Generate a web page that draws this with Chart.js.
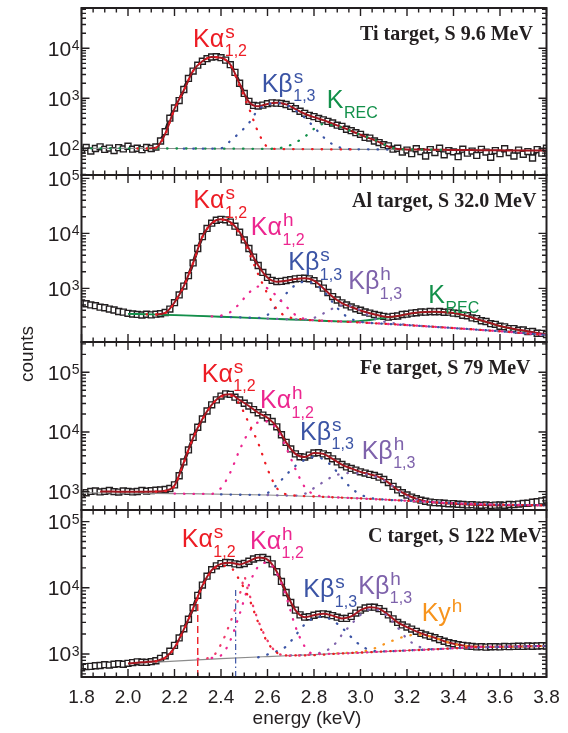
<!DOCTYPE html>
<html><head><meta charset="utf-8">
<script src="https://cdn.jsdelivr.net/npm/chart.js@4.4.1/dist/chart.umd.min.js"></script>
<style>
html,body{margin:0;padding:0;background:#fff;}
#wrap{position:relative;width:568px;height:733px;overflow:hidden;}
canvas{position:absolute;left:0;top:0;}
</style>
</head><body><div id="wrap">
<canvas id="c0" width="568" height="733"></canvas>
<canvas id="c1" width="568" height="733"></canvas>
<canvas id="c2" width="568" height="733"></canvas>
<canvas id="c3" width="568" height="733"></canvas>
</div>
<script>
// ---------------- DATA ----------------
const energy = [1.80,1.82,1.84,1.86,1.88,1.90,1.92,1.94,1.96,1.98,2.00,2.02,2.04,2.06,2.08,2.10,2.12,2.14,2.16,2.18,2.20,2.22,2.24,2.26,2.28,2.30,2.32,2.34,2.36,2.38,2.40,2.42,2.44,2.46,2.48,2.50,2.52,2.54,2.56,2.58,2.60,2.62,2.64,2.66,2.68,2.70,2.72,2.74,2.76,2.78,2.80,2.82,2.84,2.86,2.88,2.90,2.92,2.94,2.96,2.98,3.00,3.02,3.04,3.06,3.08,3.10,3.12,3.14,3.16,3.18,3.20,3.22,3.24,3.26,3.28,3.30,3.32,3.34,3.36,3.38,3.40,3.42,3.44,3.46,3.48,3.50,3.52,3.54,3.56,3.58,3.60,3.62,3.64,3.66,3.68,3.70,3.72,3.74,3.76,3.78,3.80];
const fitEnergy = [1.80,1.84,1.88,1.92,1.96,2.00,2.04,2.08,2.12,2.16,2.20,2.24,2.28,2.32,2.36,2.40,2.44,2.48,2.52,2.56,2.60,2.64,2.68,2.72,2.76,2.80,2.84,2.88,2.92,2.96,3.00,3.04,3.08,3.12,3.16,3.20,3.24,3.28,3.32,3.36,3.40,3.44,3.48,3.52,3.56,3.60,3.64,3.68,3.72,3.76,3.80];
const xTickValues = [1.8,2.0,2.2,2.4,2.6,2.8,3.0,3.2,3.4,3.6,3.8];
const xTickLabels = ['1.8','2.0','2.2','2.4','2.6','2.8','3.0','3.2','3.4','3.6','3.8'];

// Ti target, S 9.6 MeV
const tiCounts = [92,104,88,99,107,95,101,90,103,97,
 110,96,100,94,104,99,106,140,215,400,
 640,900,1500,2500,3500,4600,5500,6200,6700,6800,
 6500,5800,4700,3300,2000,1250,870,720,700,730,
 780,810,800,790,750,690,620,550,500,455,
 430,395,370,345,320,290,275,240,225,205,
 190,165,160,140,130,118,112,96,100,84,
 92,78,98,86,70,94,82,100,74,90,
 85,68,96,80,88,72,95,84,66,90,
 78,98,82,70,92,76,86,64,94,80,
 100];
const tiFit = [null,null,null,null,null,null,null,99,103,195,620,1450,3550,5500,6700,6500,4750,1950,850,690,770,815,755,610,490,420,365,310,265,222,186,158,133,108,97,95,94,94,93,93,92,92,92,91,91,91,90,90,90,90,90];
const tiBgE = [1.8,2.2,2.6,3.0,3.4,3.8];
const tiBgV = [100,99,97,95,92,90];
const tiKasE = [2.04,2.08,2.12,2.16,2.20,2.24,2.28,2.32,2.36,2.40,2.44,2.48,2.52,2.56,2.60,2.64,2.72,2.80,2.88,2.96];
const tiKasV = [99,99,102,190,600,1420,3500,5450,6650,6400,4650,1750,640,210,106,97,96,96,95,95];
const tiKbsE = [2.24,2.32,2.40,2.44,2.48,2.52,2.56,2.60,2.64,2.68,2.72,2.76,2.80,2.84,2.88,2.92,2.96,3.04,3.12];
const tiKbsV = [98,98,100,140,205,320,590,750,800,740,570,410,265,168,120,101,96,95,94];
const tiRecE = [1.80,1.90,2.00,2.10,2.20,2.30,2.40,2.50,2.60,2.64,2.68,2.72,2.76,2.80,2.84,2.88,2.92,2.96,3.00,3.04,3.08,3.12,3.16,3.20,3.28,3.36];
const tiRecV = [100,100,100,99,99,99,98,98,97,100,107,130,170,245,305,290,262,220,185,160,135,108,97,95,94,93];

// Al target, S 32.0 MeV
const alCounts = [545,525,500,485,455,445,420,405,380,370,
 352,342,336,328,338,330,340,346,365,420,
 550,760,1100,1700,2900,5300,8700,12300,15300,17300,
 18000,17600,16000,13500,10500,7600,5300,3700,2600,1950,
 1580,1400,1330,1340,1390,1440,1490,1520,1530,1490,
 1380,1200,1010,840,710,615,545,500,460,425,
 400,372,355,335,322,310,300,310,315,335,
 340,355,360,372,370,380,375,380,368,370,
 355,350,325,318,290,282,258,250,228,222,
 205,200,186,186,174,175,164,165,153,152,
 145];
const alFit = [null,null,null,null,null,null,null,null,336,358,555,1100,2900,8700,15300,18000,16000,10500,5300,2600,1570,1320,1380,1480,1520,1380,1005,705,540,458,397,352,320,302,314,340,360,372,376,370,357,330,295,261,232,207,190,177,166,155,145];
const alBgE = [2.0,2.2,2.4,2.6,2.8,3.0,3.2,3.4,3.6,3.8];
const alBgV = [345,327,305,283,262,240,215,190,166,142];
const alRecE = [2.00,2.10,2.20,2.30,2.40,2.50,2.60,2.70,2.80,2.90,2.96,3.00,3.04,3.08,3.12,3.16,3.20,3.24,3.28,3.32,3.36,3.40,3.44,3.48,3.52,3.56,3.60,3.64,3.68,3.72,3.76,3.80];
const alRecV = [345,336,327,316,305,294,283,272,262,252,250,256,266,282,296,312,338,358,371,375,369,356,329,294,260,231,205,188,175,164,153,143];
const alKasE = [2.08,2.12,2.16,2.20,2.24,2.28,2.32,2.36,2.40,2.44,2.48,2.52,2.56,2.60,2.64,2.68,2.72,2.80,2.90,3.00,3.20,3.40,3.60,3.80];
const alKasV = [338,335,355,550,1080,2850,8600,15100,17800,15500,9800,4500,1800,800,420,310,285,262,251,240,215,190,166,142];
const alKahE = [2.36,2.40,2.44,2.48,2.52,2.56,2.60,2.64,2.68,2.72,2.76,2.80,2.90,3.00,3.20,3.40,3.60,3.80];
const alKahV = [310,320,370,530,830,1080,1000,720,470,330,278,264,252,240,215,190,166,142];
const alKbsE = [2.40,2.50,2.56,2.60,2.64,2.68,2.72,2.76,2.80,2.84,2.88,2.92,2.96,3.00,3.10,3.20,3.40,3.60,3.80];
const alKbsV = [305,295,290,330,480,800,1150,1320,1220,900,560,360,278,248,228,215,190,166,142];
const alKbhE = [2.60,2.70,2.76,2.80,2.84,2.88,2.92,2.96,3.00,3.04,3.08,3.12,3.20,3.40,3.60,3.80];
const alKbhV = [283,273,272,290,350,430,490,480,400,310,262,240,218,190,166,142];

// Fe target, S 79 MeV
const feCounts = [900,960,1010,1030,990,1010,1045,1000,985,1030,
 1010,990,1005,1050,1020,1040,1060,1070,1090,1130,
 1300,1850,3150,5000,8100,12000,16500,22500,28500,34500,
 40000,43500,42800,38300,34300,30300,27300,23700,21000,19200,
 17300,15000,12200,9000,6700,5200,4300,3850,3800,4100,
 4450,4500,4300,4000,3550,3150,2850,2600,2450,2300,
 2150,2050,1950,1870,1750,1600,1420,1230,1070,960,
 880,810,760,720,690,670,655,650,640,625,
 630,615,610,600,605,595,590,600,585,595,
 600,590,610,605,620,635,640,665,680,700,
 725];
const feFit = [null,null,1010,1005,1000,998,996,996,1002,1040,1270,3100,8000,16500,28500,40000,42800,34300,27300,21000,17300,12200,6700,4300,3800,4450,4300,3550,2850,2450,2150,1950,1750,1420,1070,880,760,690,658,640,627,614,604,597,593,591,590,590,590,590,590];
const feBgE = [1.8,2.2,2.6,2.8,3.0,3.2,3.4,3.6,3.8];
const feBgV = [960,930,880,830,770,705,640,605,590];
const feKasE = [2.12,2.16,2.20,2.24,2.28,2.32,2.36,2.40,2.44,2.48,2.52,2.56,2.60,2.64,2.68,2.72,2.80,3.00,3.20,3.40,3.60,3.80];
const feKasV = [1000,1020,1230,3050,7900,16300,28000,39000,40500,29000,14000,6500,2400,1150,900,860,830,770,705,640,605,590];
const feKahE = [2.20,2.30,2.36,2.40,2.44,2.48,2.52,2.56,2.60,2.64,2.68,2.72,2.76,2.80,2.84,3.00,3.20,3.40,3.60,3.80];
const feKahV = [930,915,920,1150,2100,5000,10000,14500,15000,11000,5500,2400,1200,900,840,770,705,640,605,590];
const feKbsE = [2.40,2.52,2.56,2.60,2.64,2.68,2.72,2.76,2.80,2.84,2.88,2.92,2.96,3.00,3.04,3.12,3.20,3.40,3.60,3.80];
const feKbsV = [900,885,885,950,1300,1900,2700,3400,3800,3500,2600,1700,1150,900,790,730,705,640,605,590];
const feKbhE = [2.60,2.68,2.72,2.76,2.80,2.84,2.88,2.92,2.96,3.00,3.04,3.08,3.12,3.16,3.20,3.24,3.28,3.40,3.60,3.80];
const feKbhV = [880,860,860,920,1150,1450,1800,2000,2050,2000,1900,1700,1400,1060,830,740,690,640,605,590];

// C target, S 122 MeV
const cCounts = [620,645,650,665,670,690,680,700,712,700,
 722,740,762,750,745,765,790,860,940,1100,
 1350,1750,2400,3350,5000,7700,11000,15000,18800,21500,
 23200,24200,24000,23000,22500,23300,25200,27300,28600,28800,
 26800,23000,17500,12500,8500,6000,4600,3900,3600,3650,
 3850,4000,4050,3950,3800,3600,3450,3450,3700,4150,
 4600,4950,5100,5100,4850,4400,3900,3400,3000,2750,
 2550,2380,2200,2050,1940,1850,1760,1650,1560,1480,
 1430,1380,1350,1320,1300,1280,1290,1270,1285,1290,
 1280,1300,1290,1300,1310,1300,1320,1310,1320,1330,
 1320];
const cFit = [null,null,null,null,null,720,740,758,785,880,1250,2350,4900,10800,18500,23000,23900,22600,25200,28600,26700,17500,8500,4600,3600,3850,4050,3800,3450,3700,4600,5100,4850,3900,3000,2550,2200,1940,1760,1560,1430,1350,1300,1285,1280,1285,1290,1300,1310,1315,1320];
const cBgE = [2.0,2.2,2.4,2.6,2.8,3.0,3.2,3.4,3.6,3.8];
const cBgV = [710,780,850,915,980,1050,1130,1220,1280,1320];
const cKasE = [2.12,2.16,2.20,2.24,2.28,2.32,2.36,2.40,2.44,2.48,2.52,2.56,2.60,2.64,2.68,2.76,2.90,3.10,3.30,3.50];
const cKasV = [770,870,1230,2300,4800,10500,17800,21500,20500,13000,7000,3000,1500,1050,950,950,1010,1090,1170,1270];
const cKahNarrowE = [2.30,2.36,2.40,2.44,2.47,2.49,2.50,2.51,2.53,2.56,2.60,2.64,2.70,2.80];
const cKahNarrowV = [840,900,1400,3000,6000,10500,15000,11000,6500,3200,1600,1050,940,980];
const cKahE = [2.36,2.40,2.44,2.48,2.52,2.56,2.60,2.64,2.68,2.72,2.76,2.80,2.90,3.10,3.30,3.50,3.80];
const cKahV = [870,950,1600,4000,11000,21000,24000,16500,7500,2600,1300,1000,1010,1090,1170,1270,1320];
const cKbsE = [2.56,2.64,2.68,2.72,2.76,2.80,2.84,2.88,2.92,2.96,3.00,3.04,3.08,3.20,3.40,3.60,3.80];
const cKbsV = [890,1100,1300,1900,2800,3500,3650,3200,2500,1800,1350,1150,1090,1130,1220,1280,1320];
const cKbhE = [2.70,2.80,2.84,2.88,2.92,2.96,3.00,3.04,3.08,3.12,3.16,3.20,3.24,3.28,3.32,3.40,3.60,3.80];
const cKbhV = [950,1000,1080,1300,1950,2800,3900,4700,4600,3600,2500,1700,1350,1200,1180,1220,1280,1320];
const cKghE = [2.90,2.96,3.00,3.04,3.08,3.12,3.16,3.20,3.24,3.28,3.32,3.36,3.40,3.44,3.48,3.52,3.60,3.80];
const cKghV = [1020,1050,1080,1150,1300,1500,1700,1880,1950,1900,1760,1560,1420,1340,1300,1285,1280,1320];
const cMarkE = [2.30, 2.463];
const cMarkTop = [7700, 10100];

// ---------------- STYLE ----------------
const RED='#ed1c24', PINK='#ec268f', BLUE='#3b54a5', PURPLE='#7e62ab', GREEN='#12904a', ORANGE='#f7941d';
const FIT='#a3161f', GRAY='#8c8c8c', INK='#231f20';
const SANS='"Liberation Sans", Arial, Helvetica, sans-serif';
const SERIF='"Liberation Serif", "Times New Roman", serif';

const pts = (xs, ys) => xs.map((x, i) => ({x: x, y: ys[i]}));
function scatterDs(E, V) {
  return {data: pts(E, V), showLine: false, pointStyle: 'rect', pointRadius: 4.2, pointBorderWidth: 1.4,
    pointBorderColor: INK, pointBackgroundColor: '#ffffff', order: 10, clip: 0};
}
function chainDs(E, V) {
  return {data: pts(E, V), borderColor: INK, borderWidth: 3.2, pointRadius: 0, fill: false,
    tension: 0, order: 11, clip: 0};
}
function lineDs(E, V, color, width, order) {
  return {data: pts(E, V), borderColor: color, borderWidth: width, pointRadius: 0, fill: false,
    cubicInterpolationMode: 'monotone', order: order, clip: 0};
}
function dotDs(E, V, color) {
  const d = lineDs(E, V, color, 2.3, 1);
  d.borderDash = [0.5, 9]; d.borderCapStyle = 'round';
  return d;
}

const panels = [
  {title: 'Ti target, S 9.6 MeV', titleX: 360, top: 8, bottom: 175, yMin: 29.2, yMax: 64000,
   datasets: [chainDs(energy, tiCounts), scatterDs(energy, tiCounts), lineDs(tiBgE, tiBgV, GRAY, 1.2, 5),
     dotDs(tiKasE, tiKasV, RED), dotDs(tiKbsE, tiKbsV, BLUE), dotDs(tiRecE, tiRecV, GREEN),
     lineDs(fitEnergy, tiFit, FIT, 2, 2)],
   labels: [
     {t: 'Kα', sup: 's', sub: '1,2', color: RED, e: 2.280, v: 10770},
     {t: 'Kβ', sup: 's', sub: '1,3', color: BLUE, e: 2.575, v: 1355},
     {t: 'K', sup: '', sub: 'REC', color: GREEN, e: 2.855, v: 631}]},
  {title: 'Al target, S 32.0 MeV', titleX: 352, top: 175, bottom: 342, yMin: 106, yMax: 115000,
   datasets: [chainDs(energy, alCounts), scatterDs(energy, alCounts), lineDs(alBgE, alBgV, GRAY, 1, 6),
     dotDs(alKasE, alKasV, RED), dotDs(alKahE, alKahV, PINK), dotDs(alKbsE, alKbsV, BLUE), dotDs(alKbhE, alKbhV, PURPLE),
     lineDs(alRecE, alRecV, GREEN, 1.8, 4), lineDs(fitEnergy, alFit, FIT, 2, 2)],
   labels: [
     {t: 'Kα', sup: 's', sub: '1,2', color: RED, e: 2.281, v: 28480},
     {t: 'Kα', sup: 'h', sub: '1,2', color: PINK, e: 2.528, v: 9310},
     {t: 'Kβ', sup: 's', sub: '1,3', color: BLUE, e: 2.6895, v: 2153},
     {t: 'Kβ', sup: 'h', sub: '1,3', color: PURPLE, e: 2.9476, v: 971},
     {t: 'K', sup: '', sub: 'REC', color: GREEN, e: 3.2916, v: 534}]},
  {title: 'Fe target, S 79 MeV', titleX: 360, top: 342, bottom: 510, yMin: 493, yMax: 322000,
   datasets: [chainDs(energy, feCounts), scatterDs(energy, feCounts), lineDs(feBgE, feBgV, GRAY, 1.2, 5),
     dotDs(feKasE, feKasV, RED), dotDs(feKahE, feKahV, PINK), dotDs(feKbsE, feKbsV, BLUE), dotDs(feKbhE, feKbhV, PURPLE),
     lineDs(fitEnergy, feFit, FIT, 2, 2)],
   labels: [
     {t: 'Kα', sup: 's', sub: '1,2', color: RED, e: 2.317, v: 69580},
     {t: 'Kα', sup: 'h', sub: '1,2', color: PINK, e: 2.5677, v: 24950},
     {t: 'Kβ', sup: 's', sub: '1,3', color: BLUE, e: 2.7398, v: 7350},
     {t: 'Kβ', sup: 'h', sub: '1,3', color: PURPLE, e: 3.005, v: 3530}]},
  {title: 'C target, S 122 MeV', titleX: 368, top: 510, bottom: 677, yMin: 449, yMax: 150000,
   datasets: [chainDs(energy, cCounts), scatterDs(energy, cCounts), lineDs(cBgE, cBgV, GRAY, 1.2, 5),
     dotDs(cKasE, cKasV, RED), dotDs(cKahNarrowE, cKahNarrowV, '#ef3a6a'), dotDs(cKahE, cKahV, PINK),
     dotDs(cKbsE, cKbsV, BLUE), dotDs(cKbhE, cKbhV, PURPLE), dotDs(cKghE, cKghV, ORANGE),
     lineDs(fitEnergy, cFit, FIT, 2, 2),
     Object.assign(lineDs([cMarkE[0], cMarkE[0]], [449, cMarkTop[0]], RED, 1.4, 1), {borderDash: [7, 4], cubicInterpolationMode: 'default'}),
     Object.assign(lineDs([cMarkE[1], cMarkE[1]], [449, cMarkTop[1]], BLUE, 1.2, 1), {borderDash: [6, 3, 1.5, 3], cubicInterpolationMode: 'default'})],
   labels: [
     {t: 'Kα', sup: 's', sub: '1,2', color: RED, e: 2.231, v: 41100},
     {t: 'Kα', sup: 'h', sub: '1,2', color: PINK, e: 2.5247, v: 38900},
     {t: 'Kβ', sup: 's', sub: '1,3', color: BLUE, e: 2.754, v: 7210},
     {t: 'Kβ', sup: 'h', sub: '1,3', color: PURPLE, e: 2.9906, v: 8110},
     {t: 'Ky', sup: 'h', sub: '', color: ORANGE, e: 3.263, v: 3205}]}
];

function drawLabel(ctx, xs, ys, L) {
  const x = xs.getPixelForValue(L.e), y = ys.getPixelForValue(L.v);
  ctx.fillStyle = L.color; ctx.textAlign = 'left'; ctx.textBaseline = 'alphabetic';
  ctx.font = '25px ' + SANS;
  ctx.fillText(L.t, x, y);
  const w = ctx.measureText(L.t).width;
  if (L.sup) { ctx.font = '19px ' + SANS; ctx.fillText(L.sup, x + w + 1, y - 9); }
  if (L.sub) { ctx.font = '16px ' + SANS; ctx.fillText(L.sub, x + w + 0.5, y + 9.5); }
}

function decoPlugin(P, isBottom) {
  return {
    id: 'deco',
    afterDatasetsDraw(chart) {
      const ctx = chart.ctx, a = chart.chartArea, xs = chart.scales.x, ys = chart.scales.y;
      ctx.save();
      P.labels.forEach(L => drawLabel(ctx, xs, ys, L));
      ctx.fillStyle = INK; ctx.textAlign = 'left'; ctx.textBaseline = 'alphabetic';
      ctx.font = 'bold 20px ' + SERIF;
      ctx.fillText(P.title, P.titleX, a.top + 32);
      // ticks
      ctx.strokeStyle = INK; ctx.lineWidth = 1.4; ctx.beginPath();
      for (let k = 0; k <= 40; k++) {
        const v = 1.8 + k * 0.05;
        const px = xs.getPixelForValue(v);
        const len = (k % 4 === 0) ? 8 : 4.5;
        ctx.moveTo(px, a.top); ctx.lineTo(px, a.top + len);
        ctx.moveTo(px, a.bottom); ctx.lineTo(px, a.bottom - len);
      }
      const lo = Math.floor(Math.log10(ys.min)), hi = Math.ceil(Math.log10(ys.max));
      const decades = [];
      for (let n = lo; n <= hi; n++) {
        for (let m = 1; m <= 9; m++) {
          const v = m * Math.pow(10, n);
          if (v < ys.min || v > ys.max) continue;
          const py = ys.getPixelForValue(v);
          const len = (m === 1) ? 8 : 4.5;
          ctx.moveTo(a.left, py); ctx.lineTo(a.left + len, py);
          ctx.moveTo(a.right, py); ctx.lineTo(a.right - len, py);
          if (m === 1) decades.push([n, py]);
        }
      }
      ctx.stroke();
      ctx.lineWidth = 2;
      ctx.strokeRect(a.left, a.top, a.right - a.left, a.bottom - a.top);
      // y labels
      ctx.fillStyle = INK; ctx.textAlign = 'right'; ctx.textBaseline = 'alphabetic';
      decades.forEach(([n, py]) => {
        ctx.font = '14px ' + SANS;
        const s = String(n), sw = ctx.measureText(s).width;
        ctx.fillText(s, a.left - 2, py + 2);
        ctx.font = '21px ' + SANS;
        ctx.fillText('10', a.left - 2.5 - sw, py + 7.5);
      });
      if (isBottom) {
        ctx.textAlign = 'center'; ctx.font = '19px ' + SANS;
        xTickValues.forEach((v, i) => ctx.fillText(xTickLabels[i], xs.getPixelForValue(v), a.bottom + 26));
        ctx.fillText('energy (keV)', 307, 724);
        ctx.save();
        ctx.translate(33, 354); ctx.rotate(-Math.PI / 2);
        ctx.textAlign = 'center'; ctx.font = '19px ' + SANS;
        ctx.fillText('counts', 0, 0);
        ctx.restore();
      }
      ctx.restore();
    }
  };
}

panels.forEach((P, i) => {
  new Chart(document.getElementById('c' + i), {
    type: 'line',
    data: {datasets: P.datasets},
    options: {
      responsive: false, animation: false, devicePixelRatio: 1, events: [],
      layout: {padding: {left: 81.5, right: 21.5, top: P.top, bottom: 733 - P.bottom}},
      scales: {
        x: {type: 'linear', min: 1.8, max: 3.8, display: false},
        y: {type: 'logarithmic', min: P.yMin, max: P.yMax, display: false}
      },
      plugins: {legend: {display: false}, tooltip: {enabled: false}, title: {display: false}}
    },
    plugins: [decoPlugin(P, i === 3)]
  });
});
</script>
</body></html>
